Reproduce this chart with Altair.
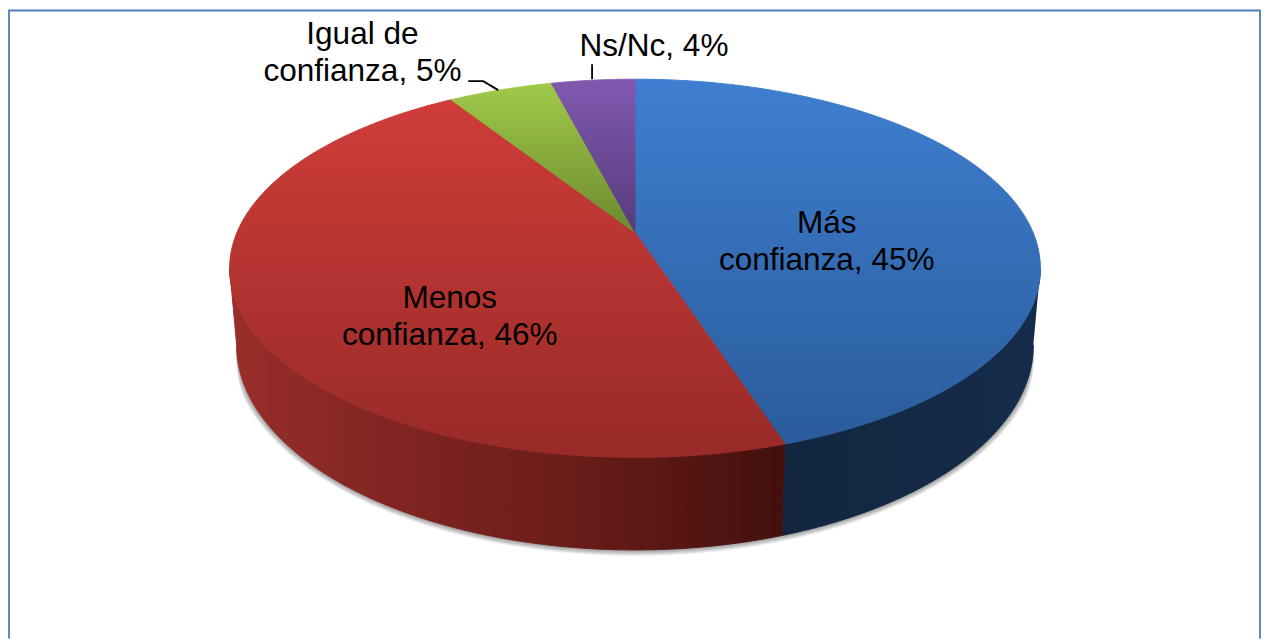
import numpy as np
import pandas as pd
import altair as alt

# --- chart values -----------------------------------------------------------
categories = ["Más confianza", "Menos confianza", "Igual de confianza", "Ns/Nc"]
shares = [45, 46, 5, 4]
top_stops = [
    ("#3f7ed0", "#2a5c9b"),
    ("#cf3d39", "#982a28"),
    ("#a0ca49", "#6c8a2e"),
    ("#8159b0", "#573b7c"),
]
label_lines = [
    ["Más", "confianza, 45%"],
    ["Menos", "confianza, 46%"],
    ["Igual de", "confianza, 5%"],
    ["Ns/Nc, 4%"],
]

# --- layout of the 3-D pie (picture pixels) ---------------------------------
CX, CY, RX, RY = 635.0, 268.0, 406.0, 190.0
APEX_Y = 232.0
BX, BY, BRX, BRY = 635.0, 345.0, 399.0, 206.0
BETA = (CY - APEX_Y) / RY
label_x = [827, 449.5, 362, 654]
label_y = [[233, 270], [308, 345], [43, 80], [55]]
leaders = [
    [(468, 80), (483, 80), (498, 89)],
    [(592, 63), (592, 78)],
]


def warp(phi):
    """Perspective position on a unit ellipse for a clockwise pie angle."""
    u, v = np.cos(phi), np.sin(phi)
    d = 1 + BETA * u
    return v * np.sqrt(1 - BETA ** 2) / d, (u + BETA) / d


def ring(phi, cx, cy, rx, ry):
    xx, yy = warp(phi)
    return cx + rx * xx, cy - ry * yy


edges = np.concatenate([[0], np.cumsum(shares)]) / sum(shares) * 2 * np.pi

X = alt.X("x:Q", scale=alt.Scale(domain=[7, 1262], range=[0, 1259]), axis=None)
Y = alt.Y("y:Q", scale=alt.Scale(domain=[8, 640], range=[0, 632]), axis=None)


def poly(xs, ys, fill, seam=True, opacity=1.0):
    df = pd.DataFrame({"x": xs, "y": ys, "i": np.arange(len(xs))})
    kw = dict(stroke=fill, strokeWidth=1.0) if seam else dict(strokeWidth=0)
    return (
        alt.Chart(df)
        .mark_line(filled=True, fill=fill, fillOpacity=opacity, interpolate="linear", **kw)
        .encode(x=X, y=Y, order="i:Q")
    )


def grad(stops, horizontal=False):
    return alt.Gradient(
        gradient="linear",
        stops=[alt.GradientStop(offset=o, color=c) for o, c in stops],
        x1=0, y1=0,
        x2=1 if horizontal else 0,
        y2=0 if horizontal else 1,
    )


def lower_arc(x_from, x_to, cx, cy, rx, ry, n=160):
    t0 = np.arccos(np.clip((x_from - cx) / rx, -1, 1))
    t1 = np.arccos(np.clip((x_to - cx) / rx, -1, 1))
    t = np.linspace(t0, t1, n)
    return cx + rx * np.cos(t), cy + ry * np.sin(t)


layers = []

# soft shadow under the side wall, tapering to nothing at the sides
t = np.linspace(0, np.pi, 240)
for g in [6, 5, 4, 3, 2, 1]:
    extra = g * np.minimum(1, np.sin(t) * 4)
    layers.append(poly(BX + (BRX + extra) * np.cos(t), BY + (BRY + extra) * np.sin(t),
                       "#000000", seam=False, opacity=0.07))

# side wall: right (blue) and left (red) parts
xb = ring(edges[1], CX, CY, RX, RY)[0]
xb2 = ring(edges[1], BX, BY, BRX, BRY)[0]

tx, ty = lower_arc(CX + RX, xb, CX, CY, RX, RY)
bx, by = lower_arc(xb2, BX + BRX, BX, BY, BRX, BRY)
layers.append(poly(np.r_[tx, bx], np.r_[ty, by],
                   grad([(0, "#12263f"), (0.7, "#142a47"), (1, "#152c4c")], True)))

tx, ty = lower_arc(xb, CX - RX, CX, CY, RX, RY)
bx, by = lower_arc(BX - BRX, xb2, BX, BY, BRX, BRY)
layers.append(poly(np.r_[tx, bx], np.r_[ty, by],
                   grad([(0, "#992e2a"), (0.25, "#842623"), (0.6, "#6b1d1a"), (1, "#43100d")], True)))

# top faces
for k in range(len(shares)):
    a = np.linspace(edges[k], edges[k + 1], 160)
    ax, ay = ring(a, CX, CY, RX, RY)
    xs = np.r_[CX, ax, CX]
    ys = np.r_[APEX_Y, ay, APEX_Y]
    layers.append(poly(xs, ys, grad([(0, top_stops[k][0]), (1, top_stops[k][1])])))

# frame of the picture
frame = pd.DataFrame({"x": [8, 8, 1261, 1261], "y": [640, 9, 9, 640], "i": range(4)})
layers.append(alt.Chart(frame).mark_line(color="#4a7ebb", strokeWidth=1.8).encode(x=X, y=Y, order="i:Q"))

# leader lines
for pts in leaders:
    df = pd.DataFrame({"x": [p[0] for p in pts], "y": [p[1] for p in pts], "i": range(len(pts))})
    layers.append(alt.Chart(df).mark_line(color="#000000", strokeWidth=1.8).encode(x=X, y=Y, order="i:Q"))

# labels
rows = []
for lx, ly, lines in zip(label_x, label_y, label_lines):
    for yy, tt in zip(ly, lines):
        rows.append({"x": lx, "y": yy, "t": tt})
layers.append(
    alt.Chart(pd.DataFrame(rows))
    .mark_text(font="Liberation Sans", fontSize=31.7, color="#000000", align="center", baseline="alphabetic")
    .encode(x=X, y=Y, text="t:N")
)

chart = (
    alt.layer(*layers)
    .properties(
        width=1259,
        height=632,
        padding={"left": 0, "right": 0, "top": 0, "bottom": 0},
        autosize=alt.AutoSizeParams(type="none"),
        background="#ffffff",
    )
    .configure_view(stroke=None)
)
chart.save("out.html", embed_options={"renderer": "svg", "actions": False})
